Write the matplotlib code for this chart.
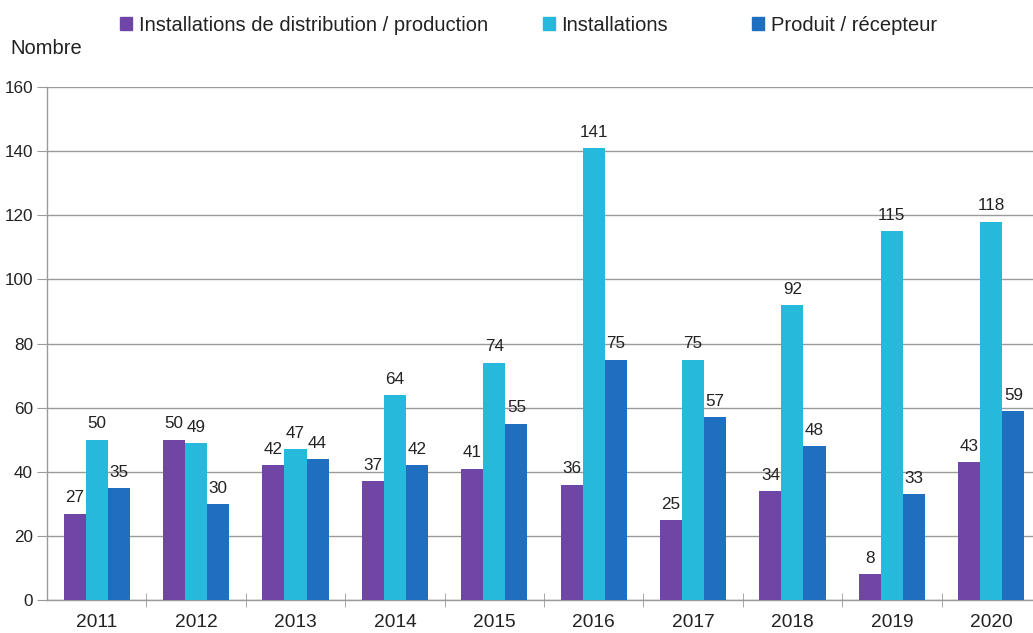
import numpy as np
import matplotlib.pyplot as plt
from matplotlib.patches import Rectangle

years = ['2011', '2012', '2013', '2014', '2015', '2016', '2017', '2018', '2019', '2020']
distribution = [27, 50, 42, 37, 41, 36, 25, 34, 8, 43]
installations = [50, 49, 47, 64, 74, 141, 75, 92, 115, 118]
produit = [35, 30, 44, 42, 55, 75, 57, 48, 33, 59]

labels = ['Installations de distribution / production', 'Installations', 'Produit / récepteur']
colors = ['#6f46a6', '#27b9dc', '#1f6ebf']

plt.rcParams['font.family'] = ['Liberation Sans', 'DejaVu Sans']

fig = plt.figure(figsize=(10.33, 6.33), dpi=100)
ax = fig.add_axes([0.0455, 0.052, 0.9545, 0.8105])

x = np.arange(len(years))
w = 0.222
series = [distribution, installations, produit]

for i, vals in enumerate(series):
    pos = x + (i - 1) * w
    ax.bar(pos, vals, width=w, color=colors[i], edgecolor='none', zorder=3)
    for p, v in zip(pos, vals):
        ax.annotate(str(v), (p, v), xytext=(0, 6), textcoords='offset points',
                    ha='center', va='bottom', fontsize=12.3, color='#222222', zorder=4)

ax.set_ylim(0, 160)
ax.set_xlim(-0.5, 9.42)
ax.set_yticks(range(0, 161, 20))
ax.set_xticks(x)
ax.set_xticklabels(years)
ax.set_xticks(np.arange(0.5, 9.5, 1), minor=True)

ax.yaxis.grid(True, color='#9a9a9a', linewidth=1.0, zorder=0)
ax.set_axisbelow(True)

for s in ['top', 'right']:
    ax.spines[s].set_visible(False)
ax.spines['left'].set_color('#9a9a9a')
ax.spines['bottom'].set_color('#9a9a9a')
ax.spines['left'].set_linewidth(1.0)
ax.spines['bottom'].set_linewidth(1.0)

ax.tick_params(axis='y', length=7, color='#9a9a9a', labelsize=12.3, labelcolor='#222222', pad=3)
ax.tick_params(axis='x', which='major', length=0, labelsize=13.8, labelcolor='#222222', pad=10)
ax.tick_params(axis='x', which='minor', length=10, direction='inout', color='#9a9a9a')

fig.text(0.0097, 0.924, 'Nombre', fontsize=14.5, ha='left', va='center', color='#222222')

# legend entries placed one by one (gaps between them are uneven)
leg_x = [120, 543, 752]
for lab, c, lx in zip(labels, colors, leg_x):
    lg = fig.legend([Rectangle((0, 0), 1, 1, color=c)], [lab], loc='center left',
                    bbox_to_anchor=(lx / 1033, 0.9605), frameon=False, fontsize=14.5,
                    handlelength=0.62, handleheight=0.62, handletextpad=0.3,
                    borderpad=0, borderaxespad=0)
    for t in lg.get_texts():
        t.set_color('#222222')

fig.savefig('out.png', dpi=100)
